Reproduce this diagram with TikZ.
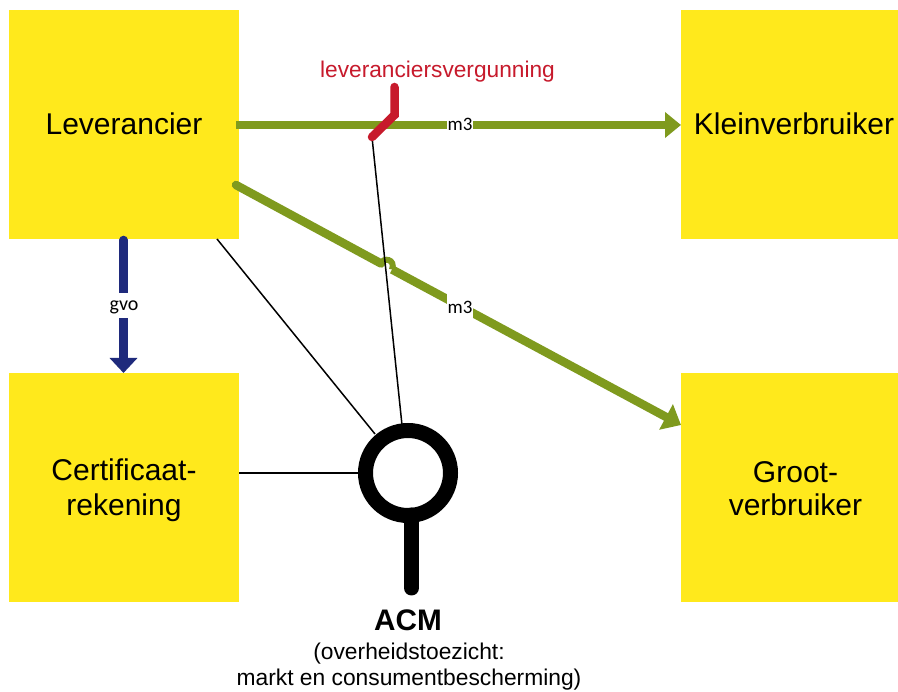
\documentclass[tikz,border=0pt]{standalone}
\usepackage{fontspec}
\setmainfont{Liberation Sans}
\newfontfamily\carlito{Carlito}
\usetikzlibrary{arrows.meta}
\definecolor{boxyellow}{HTML}{FFE91C}
\definecolor{flowgreen}{HTML}{7F9A1E}
\definecolor{flowblue}{HTML}{1F2A7C}
\definecolor{permitred}{HTML}{C71A2C}
\tikzset{
  x=1pt,y=-1pt,
  party/.style={fill=boxyellow,draw=none,inner sep=0pt,anchor=north west},
  partytext/.style={font=\fontsize{30}{35}\selectfont,align=center,inner sep=0pt},
  flow/.style={line width=8.5pt,draw=flowgreen},
  flowhead/.style={-{Triangle[length=16pt,width=25pt]}},
  tag/.style={fill=white,font=\carlito\fontsize{19}{21}\selectfont,inner sep=1pt},
  watch/.style={line width=1.5pt,black},
}
\begin{document}
\begin{tikzpicture}
\useasboundingbox (0,0) rectangle (898,692);
\fill[white] (0,0) rectangle (898,692);
% boxes
\node[party,minimum width=230pt,minimum height=229pt] (lev) at (9,10) {};
\node[party,minimum width=230pt,minimum height=229pt] (cert) at (9,373) {};
\node[party,minimum width=217pt,minimum height=229pt] (klein) at (681,10) {};
\node[party,minimum width=217pt,minimum height=229pt] (groot) at (681,373) {};
\node[partytext] (levt) at (124,124) {Leverancier};
\node[partytext] (certt) at (124,490) {Certificaat-\\rekening};
\node[partytext,font=\fontsize{30}{33}\selectfont] (groott) at (795.5,488.5) {Groot-\\verbruiker};
\node[partytext] (kleint) at (794,124) {Kleinverbruiker};
% anchors
\coordinate (gstart) at (236,125);
\coordinate (gend) at (681,125);
\coordinate (dstart) at (236,185);
\coordinate (dhopa) at (381,263.5);
\coordinate (dhopb) at (392,269.5);
\coordinate (dend) at (681,425);
\coordinate (bstart) at (123.5,240);
\coordinate (bend) at (123.5,373);
\coordinate (rtop) at (394.5,87);
\coordinate (rmid) at (394.5,115);
\coordinate (rend) at (372,137);
\coordinate (levout) at (217,239);
\coordinate (certout) at (239,473);
% ACM symbol
\node[circle,draw=black,line width=15pt,minimum size=85pt,inner sep=0pt] (acm) at (408,473) {};
\coordinate (hstart) at (411.5,515);
\coordinate (hend) at (411.5,588);
\draw[line width=15pt,black,line cap=round] (hstart) -- (hend);
% green flows
\draw[flow,line width=8pt,flowhead] (gstart) -- (gend);
\draw[flow,line cap=round] (dstart) -- (dhopa);
\draw[line width=6pt,flowgreen] (dhopa) .. controls (383,257) and (396,259) .. (dhopb);
\draw[flow,-{Triangle[length=17pt,width=28pt]}] (dhopb) -- (dend);
% blue flow
\draw[line width=8.5pt,flowblue,line cap=round,-{Triangle[length=15pt,width=27pt]}] (bstart) -- (bend);
% thin connectors
\draw[watch] (levout) -- (375,434);
\draw[watch] (rend) -- (402,425);
\draw[watch] (certout) -- (359,473);
% red
\draw[line width=8.5pt,permitred,line cap=round,line join=miter] (rtop) -- (rmid) -- (rend);
% labels
\node[tag,minimum height=14pt] (m3a) at (460,124) {m3};
\node[tag,minimum height=36pt] (m3b) at (460,307) {m3};
\node[tag,minimum height=25pt,minimum width=32pt] (gvo) at (124,306) {};
\node[font=\carlito\fontsize{20}{22}\selectfont,inner sep=0pt] (gvot) at (124,307) {gvo};
\node[font=\fontsize{22.7}{27}\selectfont,text=permitred,inner sep=0pt] (lic) at (437.5,72) {leveranciersvergunning};
\node[font=\bfseries\fontsize{29.7}{32}\selectfont,inner sep=0pt] (acmt) at (408,620) {ACM};
\node[font=\fontsize{22.8}{26}\selectfont,align=center,inner sep=0pt] (acmd) at (409,667) {(overheidstoezicht:\\markt en consumentbescherming)};
\end{tikzpicture}
\end{document}
